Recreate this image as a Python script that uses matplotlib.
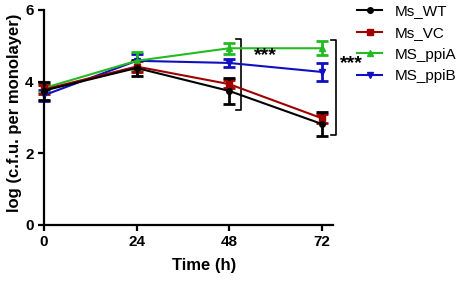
import numpy as np
import matplotlib.pyplot as plt
from matplotlib.lines import Line2D

plt.rcParams['font.family'] = ['Liberation Sans', 'DejaVu Sans']

time_h = [0, 24, 48, 72]
wt = [3.75, 4.38, 3.74, 2.82]
wt_err = [0.25, 0.22, 0.37, 0.33]
vc = [3.78, 4.42, 3.93, 2.98]
vc_err = [0.12, 0.15, 0.12, 0.13]
ppia = [3.82, 4.58, 4.93, 4.93]
ppia_err = [0.12, 0.25, 0.15, 0.2]
ppib = [3.62, 4.58, 4.52, 4.27]
ppib_err = [0.15, 0.2, 0.1, 0.25]

names = ['Ms_WT', 'Ms_VC', 'MS_ppiA', 'MS_ppiB']
colors = ['#000000', '#a00000', '#22bb22', '#1010c0']
markers = ['o', 's', '^', 'v']


def main():
    fig = plt.figure(figsize=(4.59, 2.83), dpi=100)
    ax = fig.add_axes([0.096, 0.205, 0.63, 0.76])

    series = [(wt, wt_err), (vc, vc_err), (ppia, ppia_err), (ppib, ppib_err)]
    # draw in back-to-front order like the original
    for i in [3, 2, 1, 0]:
        y, e = series[i]
        ax.errorbar(time_h, y, yerr=e, color=colors[i], marker=markers[i],
                    markersize=4, linewidth=1.5, elinewidth=2, capsize=4,
                    capthick=2, clip_on=False)

    ax.set_xlim(0, 75)
    ax.set_ylim(0, 6)
    ax.set_xticks([0, 24, 48, 72])
    ax.set_yticks([0, 2, 4, 6])
    for s in ['top', 'right']:
        ax.spines[s].set_visible(False)
    for s in ['left', 'bottom']:
        ax.spines[s].set_linewidth(1.6)
    ax.tick_params(width=1.6, length=4, labelsize=11)
    for lab in ax.get_xticklabels() + ax.get_yticklabels():
        lab.set_fontweight('bold')
    ax.set_xlabel('Time (h)', fontsize=12, fontweight='bold', labelpad=6,
                  x=0.555)
    ax.set_ylabel('log (c.f.u. per monolayer)', fontsize=12, fontweight='bold',
                  labelpad=2, y=0.52)

    # significance brackets
    def bracket(x, y0, y1):
        ax.plot([x - 1.5, x, x, x - 1.5], [y1, y1, y0, y0], color='black',
                linewidth=1.2, clip_on=False)

    bracket(51.2, 3.22, 5.2)
    ax.text(54.5, 4.72, '***', fontsize=14, fontweight='bold', va='center')
    bracket(75.8, 2.5, 5.15)
    ax.text(76.8, 4.5, '***', fontsize=14, fontweight='bold', va='center',
            clip_on=False)

    handles = [Line2D([], [], color=c, marker=m, markersize=4, linewidth=1.5)
               for c, m in zip(colors, markers)]
    fig.legend(handles, names, loc='upper left', bbox_to_anchor=(0.778, 0.985),
               frameon=False, fontsize=11, handlelength=1.65,
               labelspacing=0.5, handletextpad=0.8, borderpad=0,
               borderaxespad=0)

    fig.savefig('out.png', dpi=100)


if __name__ == '__main__':
    main()
